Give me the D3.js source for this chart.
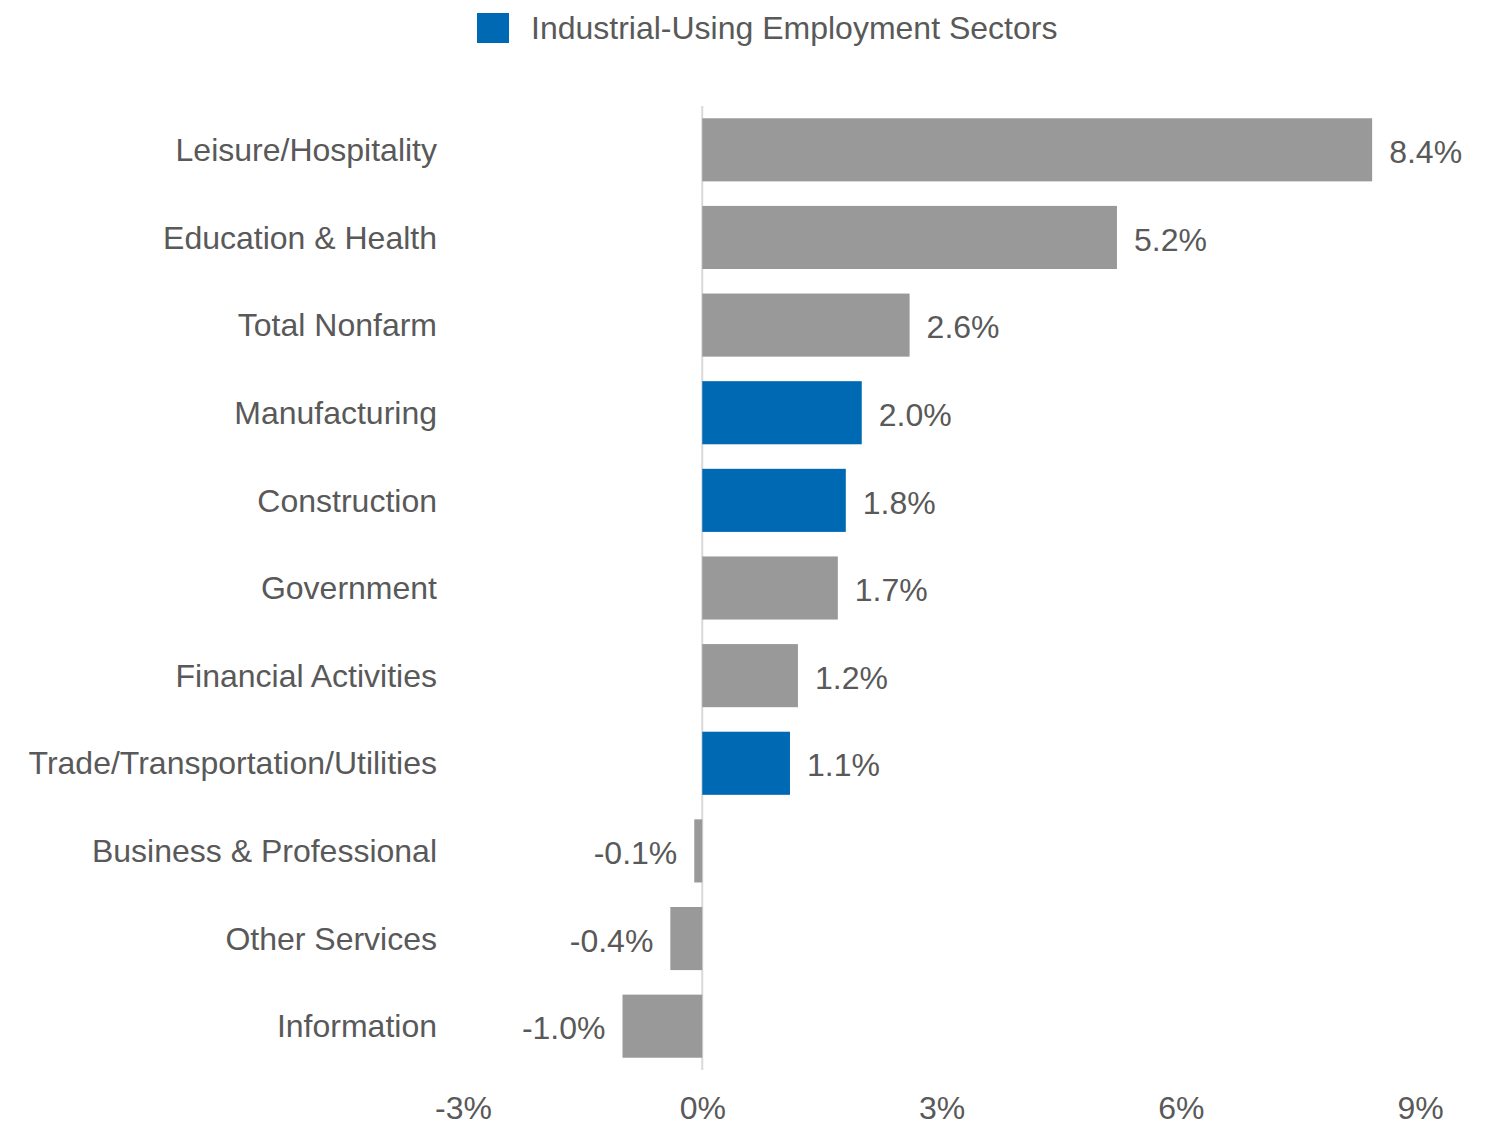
<!DOCTYPE html>
<html><head><meta charset="utf-8">
<script src="https://cdn.jsdelivr.net/npm/d3@7"></script>
<style>
html,body{margin:0;padding:0;background:#fff;}
svg text{font-family:"Liberation Sans",Arial,sans-serif;fill:#595959;}
</style></head>
<body><svg id="c" width="1496" height="1125"></svg>
<script>
const categories = ["Leisure/Hospitality","Education & Health","Total Nonfarm","Manufacturing","Construction","Government","Financial Activities","Trade/Transportation/Utilities","Business & Professional","Other Services","Information"];
const values = [8.4,5.2,2.6,2.0,1.8,1.7,1.2,1.1,-0.1,-0.4,-1.0];
const industrial = [false,false,false,true,true,false,false,true,false,false,false];
const tickValues = [-3,0,3,6,9];
const legendLabel = "Industrial-Using Employment Sectors";

const svg = d3.select("#c");
const FS = 32;
const x = d3.scaleLinear().domain([-3,9]).range([463,1420]);
const y = d3.scaleBand().domain(categories).range([106,1070]).paddingInner(0.28).paddingOuter(0.14);

// axis line at 0
svg.append("line").attr("x1",x(0)).attr("x2",x(0)).attr("y1",106).attr("y2",1070)
  .attr("stroke","#d9d9d9").attr("stroke-width",2);

svg.selectAll("rect.bar").data(categories).join("rect").attr("class","bar")
  .attr("x",(d,i)=>x(Math.min(0,values[i])))
  .attr("width",(d,i)=>Math.abs(x(values[i])-x(0)))
  .attr("y",d=>y(d)).attr("height",y.bandwidth())
  .attr("fill",(d,i)=>industrial[i]?"#0069b4":"#999999");

// value labels
svg.selectAll("text.val").data(categories).join("text").attr("class","val")
  .attr("x",(d,i)=>values[i]>=0? x(values[i])+17 : x(values[i])-17)
  .attr("y",d=>y(d)+y.bandwidth()/2+2).attr("dy","0.35em")
  .attr("text-anchor",(d,i)=>values[i]>=0?"start":"end")
  .attr("font-size",FS)
  .text((d,i)=>values[i].toFixed(1)+"%");

// category labels
svg.selectAll("text.cat").data(categories).join("text").attr("class","cat")
  .attr("x",437).attr("y",d=>y(d)+y.bandwidth()/2).attr("dy","0.35em")
  .attr("text-anchor","end").attr("font-size",FS).text(d=>d);

// x axis
const xAxis = d3.axisBottom(x).tickValues(tickValues).tickSize(0).tickPadding(0).tickFormat(d=>d+"%");
const g = svg.append("g").attr("transform","translate(0,1096)").call(xAxis);
g.select(".domain").remove();
g.selectAll("text").attr("font-size",FS).attr("dy","0.71em").attr("y",0).style("font-family","'Liberation Sans',Arial,sans-serif").attr("fill","#595959");

// legend
svg.append("rect").attr("x",477).attr("y",13).attr("width",32).attr("height",30).attr("fill","#0069b4");
svg.append("text").attr("x",531).attr("y",28).attr("dy","0.35em").attr("font-size",FS).text(legendLabel);
</script></body></html>
